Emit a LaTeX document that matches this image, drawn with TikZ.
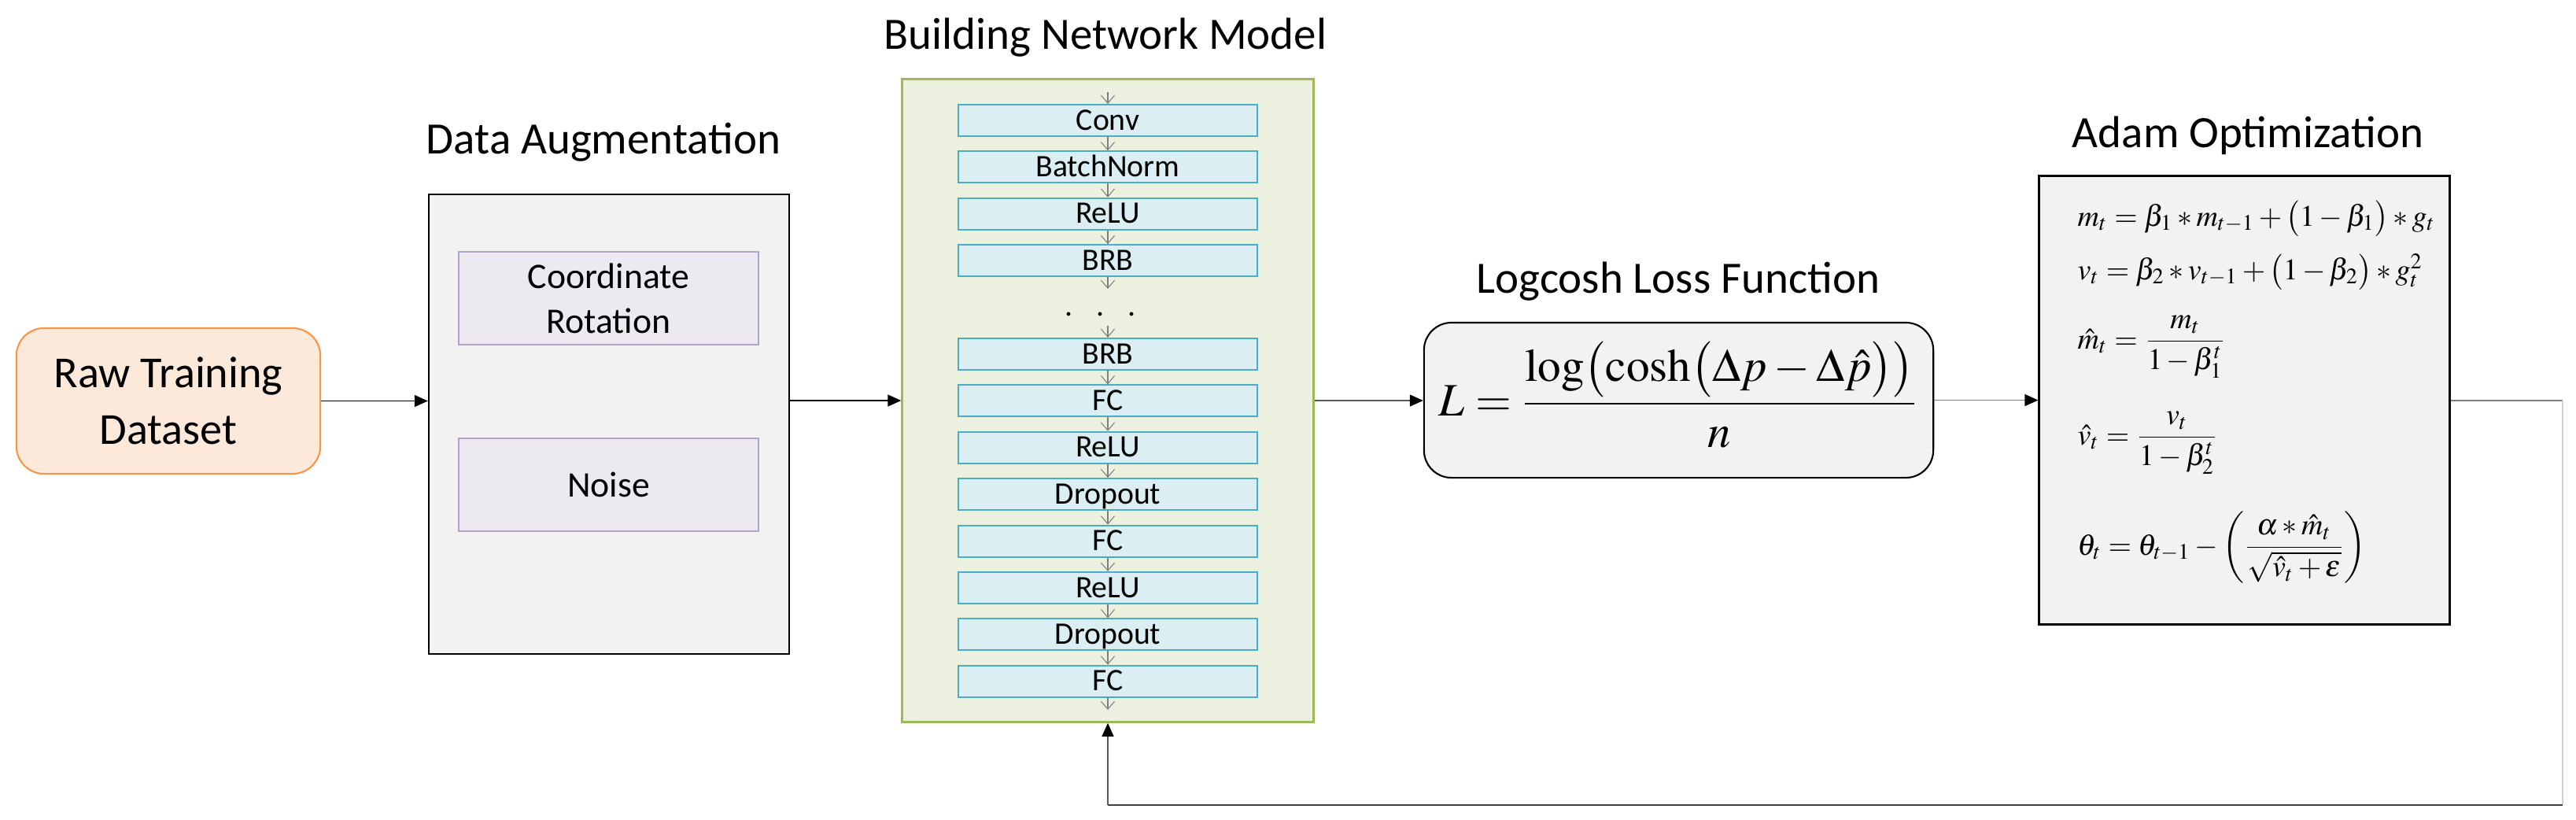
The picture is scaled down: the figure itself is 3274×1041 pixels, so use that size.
\documentclass[tikz,border=0pt]{standalone}
\usepackage{mathptmx}
\usepackage[no-math]{fontspec}
\setmainfont{Carlito}
\usetikzlibrary{arrows.meta}
\definecolor{rawfill}{HTML}{FDE9D9}
\definecolor{rawline}{HTML}{F79646}
\definecolor{boxfill}{HTML}{F2F2F2}
\definecolor{purfill}{HTML}{ECE9F1}
\definecolor{purline}{HTML}{B3A2C7}
\definecolor{netfill}{HTML}{EBF1DE}
\definecolor{netline}{HTML}{9BBB59}
\definecolor{layfill}{HTML}{DAEEF3}
\definecolor{layline}{HTML}{4BACC6}
\definecolor{gA}{HTML}{7F7F7F}
\definecolor{gB}{HTML}{D0D0D0}
\definecolor{gC}{HTML}{404040}
\definecolor{gD}{HTML}{595959}
\begin{document}
\begin{tikzpicture}[x=0.01cm,y=-0.01cm,
  title/.style={font=\fontsize{16.2}{20}\selectfont, inner sep=0, anchor=base},
  arr/.style={line width=0.4pt, -{Triangle[length=1.7mm,width=1.5mm,color=black]}},
  lyarr/.style={draw=gA, line width=0.3pt, -{Straight Barb[length=1mm,width=1.7mm]}},
  layerbox/.style={draw=layline, fill=layfill, line width=0.6pt, minimum width=3.8cm,
     minimum height=0.4cm, inner sep=0, text height=0.28cm, text depth=0.04cm,
     font=\fontsize{11.3}{13}\selectfont},
  purbox/.style={draw=purline, fill=purfill, line width=0.6pt, minimum width=3.81cm,
     minimum height=1.18cm, inner sep=0, align=center, font=\fontsize{13}{16.2}\selectfont},
  eq/.style={inner sep=0, anchor=base west, font=\fontsize{10.8}{13}\selectfont}
]
\useasboundingbox[fill=white] (0,0) rectangle (3274,1041);

% Raw dataset
\node[draw=rawline, fill=rawfill, line width=0.6pt, rounded corners=0.35cm,
  minimum width=3.86cm, minimum height=1.85cm, inner sep=0, align=center,
  font=\fontsize{16}{20.5}\selectfont] (raw) at (214,509.5) {Raw Training\\Dataset};

% Data augmentation
\node[title] (augtitle) at (767,195) {Data Augmentation};
\node[draw=black, fill=boxfill, line width=0.6pt, minimum width=4.58cm,
  minimum height=5.84cm, inner sep=0] (aug) at (774,539) {};
\node[purbox] (rot) at (773.5,379) {Coordinate\\Rotation};
\node[purbox] (noise) at (773.5,616) {Noise};

% Network
\node[title] (nettitle) at (1405,62) {Building Network Model};
\node[draw=netline, fill=netfill, line width=0.9pt, minimum width=5.22cm,
  minimum height=8.16cm, inner sep=0] (net) at (1408,509) {};
\foreach \k/\lab in {0/Conv,1/BatchNorm,2/ReLU,3/BRB,5/BRB,6/FC,7/ReLU,8/Dropout,9/FC,10/ReLU,11/Dropout,12/FC}
  \node[layerbox] (L\k) at (1408,{153+59.4*\k}) {\lab};
\foreach \a/\b in {0/1,1/2,2/3,5/6,6/7,7/8,8/9,9/10,10/11,11/12}
  \draw[lyarr] (L\a.south) -- (L\b.north);
\coordinate (ntop) at (1408,117);
\coordinate (d1) at (1408,367);
\coordinate (d2) at (1408,414);
\coordinate (nbot) at (1408,902);
\draw[lyarr] (ntop) -- (L0.north);
\draw[lyarr] (L3.south) -- (d1);
\draw[lyarr] (d2) -- (L5.north);
\draw[lyarr] (L12.south) -- (nbot);
\node[inner sep=0, font=\fontsize{11.3}{13}\selectfont] (dots) at (1399,399) {.\hspace{0.3cm}.\hspace{0.3cm}.};

% Loss
\node[title] (losstitle) at (2133,372) {Logcosh Loss Function};
\node[draw=black, fill=boxfill, line width=0.6pt, rounded corners=0.35cm,
  minimum width=6.47cm, minimum height=1.97cm, inner sep=0] (loss) at (2133.5,508.5) {};
\node[inner sep=0, anchor=base, font=\fontsize{16.8}{20}\selectfont] (lossf) at (2133,528)
  {$\displaystyle L=\frac{\mathrm{log}\bigl(\mathrm{cosh}\bigl(\Delta p-\Delta\hat{p}\bigr)\bigr)}{n}$};

% Adam
\node[title] (adamtitle) at (2857,187) {Adam Optimization};
\node[draw=black, fill=boxfill, line width=0.8pt, minimum width=5.21cm,
  minimum height=5.69cm, inner sep=0] (adam) at (2852.5,508.5) {};
\node[eq] (e1) at (2640,287) {$m_t=\beta_1\ast m_{t-1}+\bigl(1-\beta_1\bigr)\ast g_t$};
\node[eq] (e2) at (2640,355) {$v_t=\beta_2\ast v_{t-1}+\bigl(1-\beta_2\bigr)\ast g_t^2$};
\node[eq] (e3) at (2640,443) {$\displaystyle \hat{m}_t=\frac{m_t}{1-\beta_1^t}$};
\node[eq] (e4) at (2640,565) {$\displaystyle \hat{v}_t=\frac{v_t}{1-\beta_2^t}$};
\node[eq] (e5) at (2640,705) {$\displaystyle \theta_t=\theta_{t-1}-\left(\frac{\alpha\ast\hat{m}_t}{\sqrt{\hat{v}_t+\varepsilon}}\right)$};

% Connectors
\draw[arr] (raw.east) -- (raw.east -| aug.west);
\draw[arr] (net.west -| aug.east) -- (net.west);
\draw[arr, draw=gD] (net.east) -- (net.east -| loss.west);
\draw[arr, draw=gA] (loss.east) -- (loss.east -| adam.west);
\coordinate (fb1) at (3257,509);
\coordinate (fb2) at (3257,1023);
\coordinate (fb3) at (1408,1023);
\draw[draw=gA, line width=0.6pt] (adam.east |- fb1) -- (fb1);
\draw[draw=gB, line width=0.4pt] (fb1) -- (fb2);
\draw[draw=gC, line width=0.6pt] (fb2) -- (fb3);
\draw[arr, draw=gD] (fb3) -- (net.south);
\end{tikzpicture}
\end{document}
